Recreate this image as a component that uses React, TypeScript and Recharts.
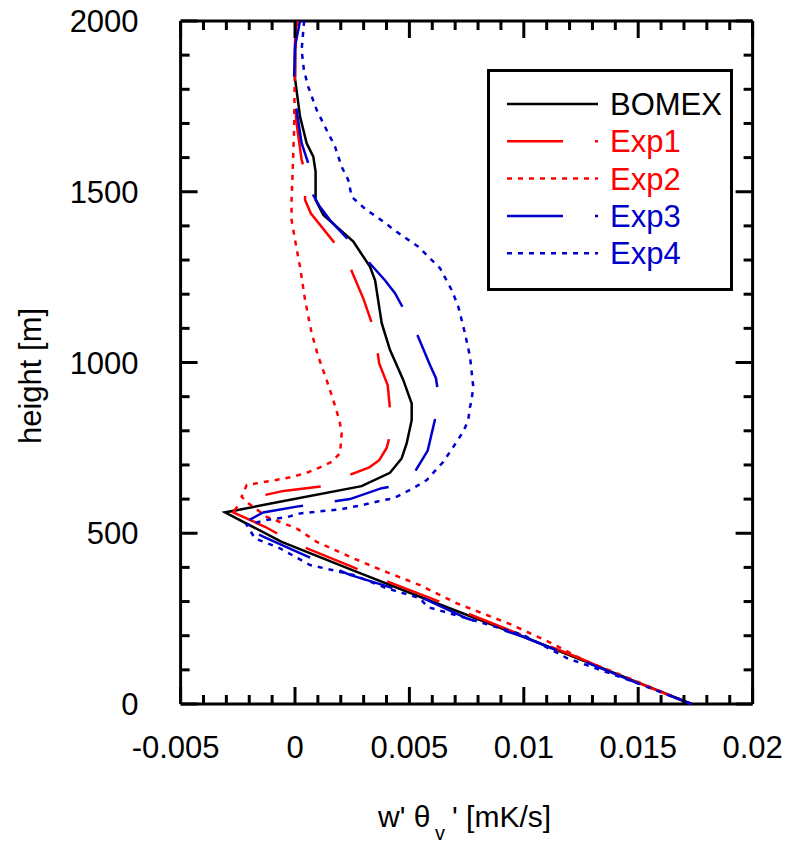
import { ScatterChart, Scatter, XAxis, YAxis, Legend } from "recharts";

// flux in mK/s, z in m
const BOMEX = [
  { flux: 0.00002, z: 2000 }, { flux: 0, z: 1832 }, { flux: 0.00022, z: 1720 },
  { flux: 0.00051, z: 1642 }, { flux: 0.0008, z: 1603 }, { flux: 0.0009, z: 1559 },
  { flux: 0.0009, z: 1476 }, { flux: 0.00124, z: 1432 }, { flux: 0.00255, z: 1354 },
  { flux: 0.00328, z: 1280 }, { flux: 0.0035, z: 1241 }, { flux: 0.00379, z: 1115 },
  { flux: 0.00415, z: 1037 }, { flux: 0.00473, z: 949 }, { flux: 0.0051, z: 880 },
  { flux: 0.0051, z: 831 }, { flux: 0.00488, z: 763 }, { flux: 0.00466, z: 719 },
  { flux: 0.00415, z: 677 }, { flux: 0.00291, z: 638 }, { flux: -0.00066, z: 592 },
  { flux: -0.00306, z: 561 }, { flux: -0.00058, z: 475 }, { flux: 0.00284, z: 383 },
  { flux: 0.00546, z: 314 }, { flux: 0.00998, z: 197 }, { flux: 0.01493, z: 65 },
  { flux: 0.01733, z: 0 },
];

const EXP1 = [
  { flux: 0.00007, z: 2000 }, { flux: 0, z: 1940 }, { flux: 0, z: 1832 },
  { flux: 0.00005, z: 1710 }, { flux: 0.00029, z: 1593 }, { flux: 0.00044, z: 1559 },
  { flux: 0.00044, z: 1476 }, { flux: 0.00069, z: 1437 }, { flux: 0.0018, z: 1344 },
  { flux: 0.0024, z: 1280 }, { flux: 0.003, z: 1185 }, { flux: 0.00347, z: 1093 },
  { flux: 0.00368, z: 997 }, { flux: 0.00405, z: 934 }, { flux: 0.00418, z: 846 },
  { flux: 0.00418, z: 793 }, { flux: 0.004, z: 749 }, { flux: 0.00368, z: 714 },
  { flux: 0.00325, z: 693 }, { flux: 0.00189, z: 658 }, { flux: 0.00124, z: 638 },
  { flux: -0.0005, z: 624 }, { flux: -0.00233, z: 597 }, { flux: -0.0027, z: 561 },
  { flux: -0.00131, z: 519 }, { flux: 0.00007, z: 468 }, { flux: 0.00248, z: 402 },
  { flux: 0.0038, z: 365 }, { flux: 0.00612, z: 305 }, { flux: 0.0075, z: 266 },
  { flux: 0.0099, z: 202 }, { flux: 0.01245, z: 134 }, { flux: 0.0145, z: 75 },
  { flux: 0.0173, z: 0 },
];

const EXP2 = [
  { flux: 0.0001, z: 2000 }, { flux: 0, z: 1900 }, { flux: -0.00004, z: 1681 },
  { flux: -0.0001, z: 1564 }, { flux: -0.00015, z: 1476 }, { flux: -0.00015, z: 1417 },
  { flux: 0, z: 1359 }, { flux: 0.00022, z: 1280 }, { flux: 0.00044, z: 1183 },
  { flux: 0.00073, z: 1085 }, { flux: 0.00102, z: 1017 }, { flux: 0.00138, z: 949 },
  { flux: 0.00167, z: 890 }, { flux: 0.00194, z: 831 }, { flux: 0.00204, z: 793 },
  { flux: 0.00197, z: 734 }, { flux: 0.0016, z: 709 }, { flux: 0.00109, z: 693 },
  { flux: 0.00051, z: 677 }, { flux: -0.00007, z: 666 }, { flux: -0.00066, z: 658 },
  { flux: -0.00211, z: 641 }, { flux: -0.00233, z: 607 }, { flux: -0.00204, z: 588 },
  { flux: -0.00124, z: 548 }, { flux: 0.00007, z: 514 }, { flux: 0.00095, z: 475 },
  { flux: 0.0024, z: 431 }, { flux: 0.00379, z: 392 }, { flux: 0.00546, z: 348 },
  { flux: 0.00707, z: 295 }, { flux: 0.0094, z: 234 }, { flux: 0.01122, z: 178 },
  { flux: 0.0126, z: 129 }, { flux: 0.0145, z: 78 }, { flux: 0.01733, z: 0 },
];

const EXP3 = [
  { flux: 0.00022, z: 2000 }, { flux: 0, z: 1925 }, { flux: -0.00004, z: 1832 },
  { flux: 0.00007, z: 1739 }, { flux: 0.00029, z: 1642 }, { flux: 0.00058, z: 1583 },
  { flux: 0.0008, z: 1490 }, { flux: 0.00109, z: 1456 }, { flux: 0.00153, z: 1417 },
  { flux: 0.00262, z: 1339 }, { flux: 0.00393, z: 1241 }, { flux: 0.00437, z: 1203 },
  { flux: 0.00481, z: 1149 }, { flux: 0.00532, z: 1085 }, { flux: 0.0059, z: 993 },
  { flux: 0.00616, z: 954 }, { flux: 0.00626, z: 910 }, { flux: 0.00612, z: 834 },
  { flux: 0.0058, z: 742 }, { flux: 0.00524, z: 680 }, { flux: 0.0043, z: 638 },
  { flux: 0.00379, z: 632 }, { flux: 0.0024, z: 600 }, { flux: 0.00007, z: 578 },
  { flux: -0.00139, z: 561 }, { flux: -0.0024, z: 524 }, { flux: -0.00139, z: 490 },
  { flux: 0.00007, z: 446 }, { flux: 0.0024, z: 378 }, { flux: 0.00386, z: 348 },
  { flux: 0.00546, z: 314 }, { flux: 0.0075, z: 251 }, { flux: 0.00998, z: 197 },
  { flux: 0.01493, z: 62 }, { flux: 0.01733, z: 0 },
];

const EXP4 = [
  { flux: 0.0004, z: 2000 }, { flux: 0.00029, z: 1915 }, { flux: 0.00039, z: 1856 },
  { flux: 0.00058, z: 1807 }, { flux: 0.00095, z: 1739 }, { flux: 0.00138, z: 1681 },
  { flux: 0.00175, z: 1632 }, { flux: 0.00204, z: 1573 }, { flux: 0.00233, z: 1534 },
  { flux: 0.00248, z: 1485 }, { flux: 0.00313, z: 1446 }, { flux: 0.00357, z: 1427 },
  { flux: 0.00444, z: 1383 }, { flux: 0.00539, z: 1339 }, { flux: 0.00634, z: 1276 },
  { flux: 0.00685, z: 1212 }, { flux: 0.00714, z: 1163 }, { flux: 0.00743, z: 1085 },
  { flux: 0.00765, z: 1017 }, { flux: 0.00779, z: 929 }, { flux: 0.00772, z: 890 },
  { flux: 0.00765, z: 870 }, { flux: 0.00757, z: 831 }, { flux: 0.00735, z: 797 },
  { flux: 0.00692, z: 753 }, { flux: 0.00648, z: 709 }, { flux: 0.00576, z: 656 },
  { flux: 0.00517, z: 632 }, { flux: 0.0043, z: 602 }, { flux: 0.00386, z: 597 },
  { flux: 0.00298, z: 583 }, { flux: 0.00197, z: 570 }, { flux: 0.00095, z: 563 },
  { flux: 0.00022, z: 558 }, { flux: -0.00036, z: 547 }, { flux: -0.00124, z: 539 },
  { flux: -0.00211, z: 524 }, { flux: -0.00175, z: 485 }, { flux: -0.00066, z: 456 },
  { flux: 0.00066, z: 407 }, { flux: 0.00255, z: 378 }, { flux: 0.004, z: 339 },
  { flux: 0.00546, z: 310 }, { flux: 0.0058, z: 284 }, { flux: 0.0075, z: 251 },
  { flux: 0.00998, z: 202 }, { flux: 0.0119, z: 134 }, { flux: 0.01493, z: 62 },
  { flux: 0.01733, z: 0 },
];

const X_MAJOR = [-0.005, 0, 0.005, 0.01, 0.015, 0.02];
const X_TICKS = [
  -0.005, -0.004, -0.003, -0.002, -0.001, 0, 0.001, 0.002, 0.003, 0.004, 0.005,
  0.006, 0.007, 0.008, 0.009, 0.01, 0.011, 0.012, 0.013, 0.014, 0.015, 0.016,
  0.017, 0.018, 0.019, 0.02,
];
const Y_MAJOR = [0, 500, 1000, 1500, 2000];
const Y_TICKS = [
  0, 100, 200, 300, 400, 500, 600, 700, 800, 900, 1000, 1100, 1200, 1300, 1400,
  1500, 1600, 1700, 1800, 1900, 2000,
];

const SERIES = [
  { name: "BOMEX", data: BOMEX, color: "#000000", dash: undefined },
  { name: "Exp1", data: EXP1, color: "#ff0000", dash: "56 32" },
  { name: "Exp2", data: EXP2, color: "#ff0000", dash: "5 6" },
  { name: "Exp3", data: EXP3, color: "#0000cc", dash: "56 32" },
  { name: "Exp4", data: EXP4, color: "#0000cc", dash: "5 6" },
];

const FONT = '"Liberation Sans", Arial, sans-serif';
const MAJOR_LEN = 17;
const MINOR_LEN = 9;

const noDot = () => <g />;

function makeTick(side: "bottom" | "top" | "left" | "right", majors: number[], labels: boolean) {
  return (props: any) => {
    const { x, y, payload } = props;
    const v = payload.value;
    const major = majors.includes(v);
    const len = major ? MAJOR_LEN : MINOR_LEN;
    let line;
    if (side === "bottom") line = <line x1={x} y1={y} x2={x} y2={y - len} />;
    else if (side === "top") line = <line x1={x} y1={y} x2={x} y2={y + len} />;
    else if (side === "left") line = <line x1={x} y1={y} x2={x + len} y2={y} />;
    else line = <line x1={x} y1={y} x2={x - len} y2={y} />;
    return (
      <g stroke="#000" strokeWidth={3}>
        {line}
        {labels && major && side === "bottom" && (
          <text x={x} y={y + 54} dx={v < 0 ? -5 : 0} textAnchor="middle" stroke="none" fill="#000" fontSize={31} fontFamily={FONT}>
            {String(v)}
          </text>
        )}
        {labels && major && side === "left" && (
          <text x={x - 42} y={y + 11} textAnchor="end" stroke="none" fill="#000" fontSize={31} fontFamily={FONT}>
            {String(v)}
          </text>
        )}
      </g>
    );
  };
}

function LegendBox() {
  return (
    <svg width={246} height={222} style={{ display: "block" }}>
      <rect x={1.5} y={1.5} width={243} height={219} fill="#fff" stroke="#000" strokeWidth={3} />
      {SERIES.map((s, i) => {
        const cy = 35 + i * 37.3;
        return (
          <g key={s.name}>
            <line x1={20} y1={cy} x2={111} y2={cy} stroke={s.color} strokeWidth={2.5} strokeDasharray={s.dash} />
            <text x={123} y={cy + 11} fill={s.color} fontSize={31} fontFamily={FONT}>
              {s.name}
            </text>
          </g>
        );
      })}
    </svg>
  );
}

export default function App() {
  const axisLine = { stroke: "#000", strokeWidth: 3 };
  return (
    <div style={{ position: "absolute", left: 0, top: 0, width: 796, height: 846, background: "#fff" }}>
      <ScatterChart width={796} height={846} margin={{ top: 20, right: 42.4, bottom: 42, left: 60.6 }}>
        <XAxis
          type="number"
          dataKey="flux"
          domain={[-0.005, 0.02]}
          ticks={X_TICKS}
          interval={0}
          height={100}
          tickSize={0}
          tickMargin={0}
          tickLine={false}
          axisLine={axisLine}
          tick={makeTick("bottom", X_MAJOR, true)}
        />
        <XAxis
          xAxisId="top"
          orientation="top"
          type="number"
          dataKey="flux"
          domain={[-0.005, 0.02]}
          ticks={X_TICKS}
          interval={0}
          height={1}
          tickSize={0}
          tickMargin={0}
          tickLine={false}
          axisLine={axisLine}
          tick={makeTick("top", X_MAJOR, false)}
        />
        <YAxis
          type="number"
          dataKey="z"
          domain={[0, 2000]}
          ticks={Y_TICKS}
          interval={0}
          width={120}
          tickSize={0}
          tickMargin={0}
          tickLine={false}
          axisLine={axisLine}
          tick={makeTick("left", Y_MAJOR, true)}
        />
        <YAxis
          yAxisId="right"
          orientation="right"
          type="number"
          dataKey="z"
          domain={[0, 2000]}
          ticks={Y_TICKS}
          interval={0}
          width={1}
          tickSize={0}
          tickMargin={0}
          tickLine={false}
          axisLine={axisLine}
          tick={makeTick("right", Y_MAJOR, false)}
        />
        {SERIES.map((s) => (
          <Scatter
            key={s.name}
            name={s.name}
            data={s.data}
            fill={s.color}
            line={{ stroke: s.color, strokeWidth: 2.5, strokeDasharray: s.dash }}
            lineType="joint"
            shape={noDot}
            isAnimationActive={false}
          />
        ))}
        <Scatter
          name="frame"
          xAxisId="top"
          yAxisId="right"
          data={BOMEX}
          shape={noDot}
          legendType="none"
          isAnimationActive={false}
        />
        <Legend
          layout="vertical"
          align="center"
          verticalAlign="middle"
          wrapperStyle={{ left: 487, top: 69, width: 246, height: 222 }}
          content={() => <LegendBox />}
        />
      </ScatterChart>
      <svg width={796} height={846} style={{ position: "absolute", left: 0, top: 0, pointerEvents: "none" }}>
        <text x={41} y={376} transform="rotate(-90 41 376)" textAnchor="middle" fontSize={31} fontFamily={FONT} fill="#000">
          height [m]
        </text>
        <text x={378} y={827} fontSize={30} fontFamily={FONT} fill="#000">w' θ</text>
        <text x={435} y={840} fontSize={20} fontFamily={FONT} fill="#000">v</text>
        <text x={452} y={827} fontSize={30} fontFamily={FONT} fill="#000">' [mK/s]</text>
      </svg>
    </div>
  );
}
